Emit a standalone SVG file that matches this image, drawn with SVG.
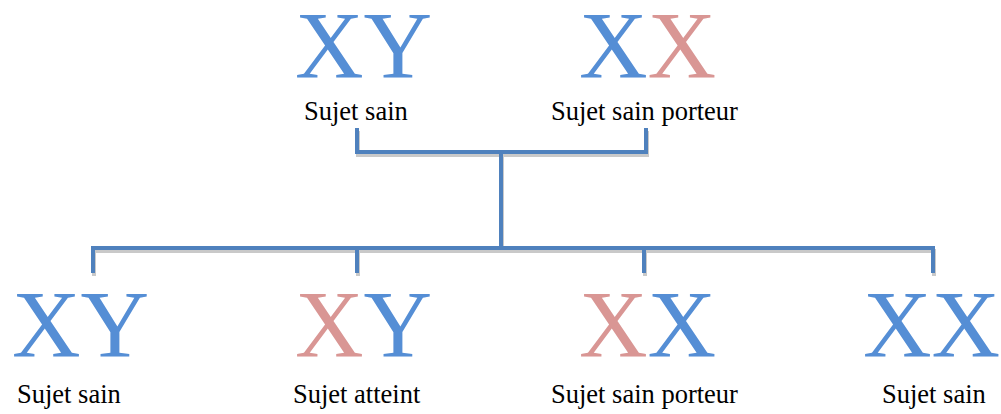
<svg xmlns="http://www.w3.org/2000/svg" width="1001" height="414" viewBox="0 0 1001 414">
<style>
.big{font-family:"Liberation Serif","Times New Roman",serif;font-size:95px}
.b{fill:#558ED5}
.p{fill:#D99694}
.lbl{font-family:"Liberation Serif","Times New Roman",serif;font-size:26.5px;fill:#000}
.ln{fill:none;stroke:#4F81BD;stroke-width:4}
.sh{fill:none;stroke:#C9C9C9;stroke-width:4}
</style>
<rect width="1001" height="414" fill="#fff"/>
<g id="connectors">
<g transform="translate(1,3)">
<path class="sh" d="M357,128 V152 H646 V128"/>
<path class="sh" d="M501,152 V248"/>
<path class="sh" d="M93,273 V248 H933 V273 M357,248 V273 M644,248 V273"/>
</g>
<path class="ln" d="M357,128 V152 H646 V128"/>
<path class="ln" d="M501,152 V248"/>
<path class="ln" d="M93,273 V248 H933 V273 M357,248 V273 M644,248 V273"/>
</g>
<g id="parent1">
<text class="big" x="295" y="78"><tspan class="b">XY</tspan></text>
<text class="lbl" x="304" y="120">Sujet sain</text>
</g>
<g id="parent2">
<text class="big" x="579" y="78"><tspan class="b">X</tspan><tspan class="p">X</tspan></text>
<text class="lbl" x="551" y="120">Sujet sain porteur</text>
</g>
<g id="child1">
<text class="big" x="12" y="357"><tspan class="b">XY</tspan></text>
<text class="lbl" x="17" y="403">Sujet sain</text>
</g>
<g id="child2">
<text class="big" x="295" y="357"><tspan class="p">X</tspan><tspan class="b">Y</tspan></text>
<text class="lbl" x="293" y="403">Sujet atteint</text>
</g>
<g id="child3">
<text class="big" x="579" y="357"><tspan class="p">X</tspan><tspan class="b">X</tspan></text>
<text class="lbl" x="551" y="403">Sujet sain porteur</text>
</g>
<g id="child4">
<text class="big" x="863" y="357"><tspan class="b">XX</tspan></text>
<text class="lbl" x="882" y="403">Sujet sain</text>
</g>
</svg>
